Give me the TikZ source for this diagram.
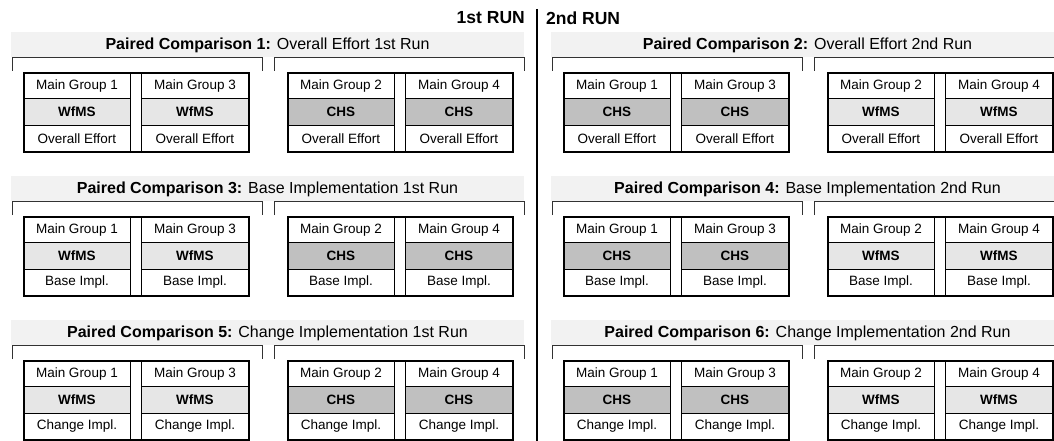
\documentclass[tikz,border=0pt]{standalone}
\usepackage{fontspec}
\setmainfont{Liberation Sans}
\definecolor{bannerc}{RGB}{242,242,242}
\definecolor{wfms}{RGB}{230,230,230}
\definecolor{chs}{RGB}{192,192,192}
\definecolor{brk}{RGB}{50,50,50}
\begin{document}
\begin{tikzpicture}[x=1pt,y=-1pt,
  cell/.style={draw=black, line width=0.8pt, minimum width=107pt, minimum height=26.33pt,
    inner sep=0pt, anchor=north west, font=\fontsize{13.5}{15}\selectfont},
  framebox/.style={draw=black, line width=2.4pt, minimum width=225pt, minimum height=79pt,
    inner sep=0pt, anchor=north west},
  bannerbox/.style={fill=bannerc, minimum width=513pt, minimum height=25pt, inner sep=0pt,
    anchor=north west},
  titletext/.style={font=\fontsize{16}{18}\selectfont, inner sep=0pt},
  runtext/.style={font=\fontsize{17.5}{20}\selectfont\bfseries, inner sep=0pt},
  bracket/.style={draw=brk, line width=0.8pt}
]
\useasboundingbox (0,0) rectangle (1054,441);

\node[runtext, anchor=east] (run1) at (525,18) {1st RUN};
\node[runtext, anchor=west] (run2) at (546,18) {2nd RUN};
\draw[line width=1.4pt] (537,9) -- (537,441);

\foreach \h/\off/\run/\ca/\la/\cb/\lb in {0/1/1st/wfms/WfMS/chs/CHS, 540/2/2nd/chs/CHS/wfms/WfMS}{
  \foreach \b/\lab/\ttl in {0/Overall Effort/Overall Effort, 1/Base Impl./Base Implementation, 2/Change Impl./Change Implementation}{
    \pgfmathsetmacro\dy{144*\b}
    \pgfmathtruncatemacro\n{2*\b+\off}
    % banner and title
    \node[bannerbox] (ban\n) at ({11+\h},{32+\dy}) {};
    \node[titletext] (ttl\n) at ({267.5+\h},{45+\dy}) {\textbf{Paired Comparison \n:} \ttl\ \run\ Run};
    % brackets
    \draw[bracket] ({12+\h},{71+\dy}) -- ({12+\h},{57+\dy}) -- ({262+\h},{57+\dy}) -- ({262+\h},{71+\dy});
    \draw[bracket] ({274+\h},{71+\dy}) -- ({274+\h},{57+\dy}) -- ({524+\h},{57+\dy}) -- ({524+\h},{71+\dy});
    % tables
    \foreach \s/\xo/\ga/\gb/\fil/\sys in {L/23/1/3/\ca/\la, R/287/2/4/\cb/\lb}{
      \node[cell] (m\n\s a) at ({\xo+\h},{72+\dy}) {Main Group \ga};
      \node[cell, fill=\fil] (s\n\s a) at ({\xo+\h},{98.33+\dy}) {\textbf{\sys}};
      \node[cell] (l\n\s a) at ({\xo+\h},{124.67+\dy}) {\lab};
      \node[cell] (m\n\s b) at ({\xo+118+\h},{72+\dy}) {Main Group \gb};
      \node[cell, fill=\fil] (s\n\s b) at ({\xo+118+\h},{98.33+\dy}) {\textbf{\sys}};
      \node[cell] (l\n\s b) at ({\xo+118+\h},{124.67+\dy}) {\lab};
      \node[framebox] (f\n\s) at ({\xo+\h},{72+\dy}) {};
    }
  }
}
\end{tikzpicture}
\end{document}
